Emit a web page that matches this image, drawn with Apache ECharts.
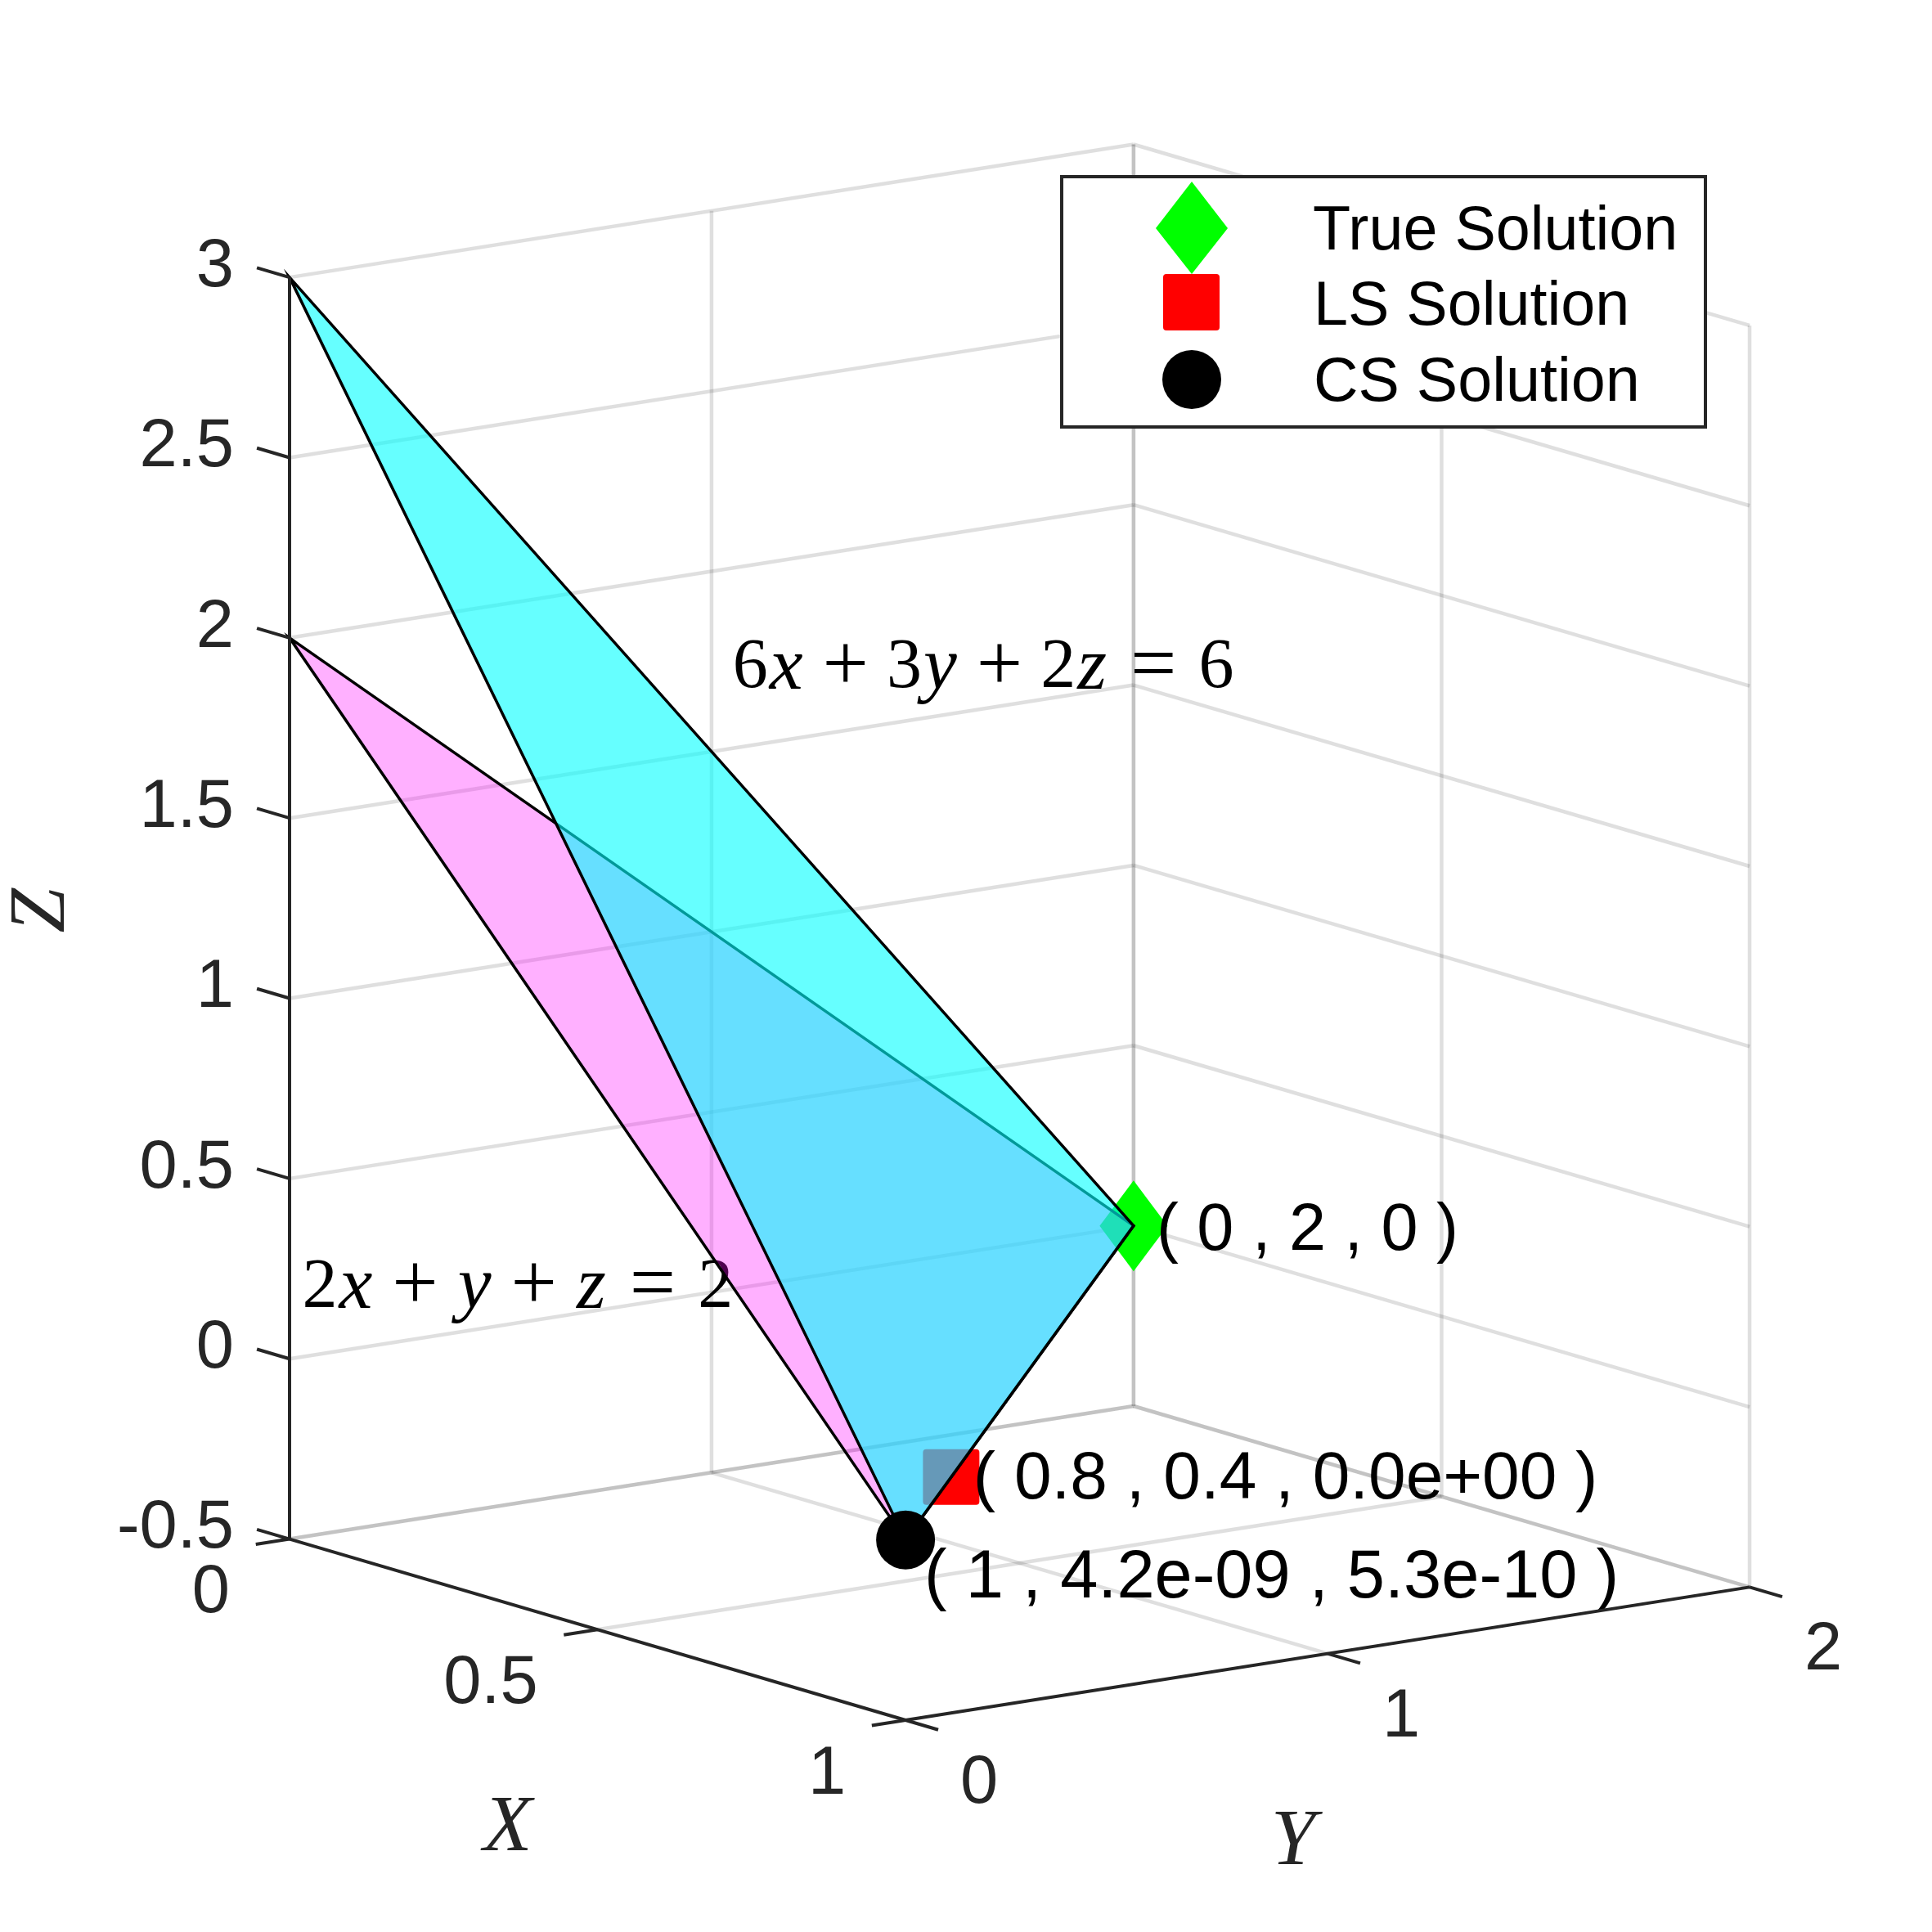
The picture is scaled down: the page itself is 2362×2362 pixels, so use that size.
<!DOCTYPE html>
<html>
<head>
<meta charset="utf-8">
<style>
  html, body { margin: 0; padding: 0; background: #fff; }
  #chart { width: 2362px; height: 2362px; }
</style>
<script src="https://cdn.jsdelivr.net/npm/echarts@6/dist/echarts.min.js"></script>
</head>
<body>
<div id="chart"></div>
<script>
const xTicks = [0, 0.5, 1]
const yTicks = [0, 1, 2]
const zTicks = [-0.5, 0, 0.5, 1, 1.5, 2, 2.5, 3]
const xTickLabels = ['0', '0.5', '1']
const yTickLabels = ['0', '1', '2']
const zTickLabels = ['-0.5', '0', '0.5', '1', '1.5', '2', '2.5', '3']

const planeA = [[1, 0, 0], [0, 2, 0], [0, 0, 2]] // 2x + y + z = 2
const planeB = [[1, 0, 0], [0, 2, 0], [0, 0, 3]] // 6x + 3y + 2z = 6

const trueSolution = [0, 2, 0]
const lsSolution = [0.8, 0.4, 0]
const csSolution = [1, 4.2e-9, 5.3e-10]
const trueLabel = '( 0 , 2 , 0 )'
const lsLabel = '( 0.8 , 0.4 , 0.0e+00 )'
const csLabel = '( 1 , 4.2e-09 , 5.3e-10 )'

const legendNames = ['True Solution', 'LS Solution', 'CS Solution']
const eqA = '{r|2}{i|x}{o|+}{i|y}{o|+}{i|z}{e|=}{r|2}'
const eqB = '{r|6}{i|x}{o|+}{r|3}{i|y}{o|+}{r|2}{i|z}{e|=}{r|6}'
const eqAPos = [0, 0.03, 0.19]
const eqBPos = [0, 1.05, 1.72]

// fixed 3d view, orthographic, az/el
const ux = 753.2
const uy = 516
const vx = -221.4
const vy = 81.3
const vz = 440.7

function project(p) {
  return [p[0] * ux + p[1] * uy, p[0] * vx + p[1] * vy + p[2] * vz]
}

const xMin = xTicks[0]
const xMax = xTicks[xTicks.length - 1]
const yMin = yTicks[0]
const yMax = yTicks[yTicks.length - 1]
const zMin = zTicks[0]
const zMax = zTicks[zTicks.length - 1]

// back walls and floor
const gridSegs = []
zTicks.forEach(z => {
  gridSegs.push([xMin, yMin, z, xMin, yMax, z])
  gridSegs.push([xMin, yMax, z, xMax, yMax, z])
})
xTicks.forEach(x => {
  if (x !== xMax) gridSegs.push([x, yMin, zMin, x, yMax, zMin])
  gridSegs.push([x, yMax, zMin, x, yMax, zMax])
})
yTicks.forEach(y => {
  if (y !== yMin) gridSegs.push([xMin, y, zMin, xMax, y, zMin])
  if (y !== yMin) gridSegs.push([xMin, y, zMin, xMin, y, zMax])
})

// axes and tick marks
const axisSegs = [
  [xMin, yMin, zMin, xMin, yMin, zMax],
  [xMin, yMin, zMin, xMax, yMin, zMin],
  [xMax, yMin, zMin, xMax, yMax, zMin]
]
zTicks.forEach(z => axisSegs.push([xMin, yMin, z, xMin - 0.053, yMin, z]))
xTicks.forEach(x => axisSegs.push([x, yMin, zMin, x, yMin - 0.08, zMin]))
yTicks.forEach(y => axisSegs.push([xMax, y, zMin, xMax + 0.053, y, zMin]))

const sans = '"Liberation Sans", Helvetica, Arial, sans-serif'
const serif = '"Liberation Serif", "Times New Roman", serif'

function segSeries(name, segs, color, width, z) {
  return {
    name: name,
    type: 'custom',
    z: z,
    silent: true,
    clip: false,
    data: segs,
    renderItem: function(params, api) {
      const a = api.coord(project([api.value(0), api.value(1), api.value(2)]))
      const b = api.coord(project([api.value(3), api.value(4), api.value(5)]))
      return {
        type: 'line',
        shape: { x1: a[0], y1: a[1], x2: b[0], y2: b[1] },
        style: { stroke: color, lineWidth: width, fill: null }
      }
    }
  }
}

function planeSeries(name, corners, fill, z) {
  return {
    name: name,
    type: 'custom',
    z: z,
    silent: true,
    clip: false,
    data: corners,
    renderItem: function(params, api) {
      if (params.dataIndex !== 0) return null
      const points = corners.map(c => api.coord(project(c)))
      return {
        type: 'polygon',
        shape: { points: points },
        style: { fill: fill, stroke: '#000', lineWidth: 3.5, lineJoin: 'miter' }
      }
    }
  }
}

function pointSeries(name, p, symbol, size, color, z) {
  return {
    name: name,
    type: 'scatter',
    z: z,
    silent: true,
    clip: false,
    symbol: symbol,
    symbolSize: size,
    itemStyle: { color: color, opacity: 1 },
    data: [project(p)]
  }
}

// text anchored on a 3d point, dx/dy in pixels
function textSeries(name, items, z) {
  return {
    name: name,
    type: 'custom',
    z: z,
    silent: true,
    clip: false,
    data: items.map((t, i) => [i]),
    renderItem: function(params, api) {
      const t = items[params.dataIndex]
      const c = api.coord(project(t.at))
      const style = {
        text: t.text,
        fill: t.color || '#262626',
        font: t.font || ('83px ' + sans),
        textAlign: t.align || 'left',
        textVerticalAlign: 'middle'
      }
      if (t.rich) style.rich = t.rich
      return {
        type: 'text',
        x: c[0] + (t.dx || 0),
        y: c[1] + (t.dy || 0),
        rotation: t.rotation || 0,
        style: style
      }
    }
  }
}

const tickTexts = []
zTicks.forEach((z, i) => tickTexts.push({ at: [xMin, yMin, z], text: zTickLabels[i], align: 'right', dx: -68, dy: -12 }))
xTicks.forEach((x, i) => tickTexts.push({ at: [x, yMin, zMin], text: xTickLabels[i], align: 'right', dx: -73, dy: 67 }))
yTicks.forEach((y, i) => tickTexts.push({ at: [xMax, y, zMin], text: yTickLabels[i], align: 'center', dx: 90, dy: 78 }))

const nameFont = 'italic 98px ' + serif
tickTexts.push({ at: [0.5, yMin, zMin], text: 'X', font: nameFont, align: 'center', dx: -110, dy: 244 })
tickTexts.push({ at: [xMax, 1, zMin], text: 'Y', font: nameFont, align: 'center', dx: -42, dy: 232 })
tickTexts.push({ at: [xMin, yMin, 1.25], text: 'Z', font: nameFont, align: 'center', dx: -302, dy: 3, rotation: Math.PI / 2 })

const eqRich = {
  r: { fontFamily: serif, fontSize: 86, fill: '#000' },
  i: { fontFamily: serif, fontSize: 92, fontStyle: 'italic', fill: '#000', padding: [0, 2, 0, 2] },
  o: { fontFamily: serif, fontSize: 100, fill: '#000', padding: [0, 22, 0, 22] },
  e: { fontFamily: serif, fontSize: 100, fill: '#000', padding: [0, 27, 0, 27] }
}
const noteTexts = [
  { at: trueSolution, text: trueLabel, color: '#000', font: '81px ' + sans, dx: 28, dy: 7 },
  { at: lsSolution, text: lsLabel, color: '#000', font: '82px ' + sans, dx: 27, dy: 4 },
  { at: csSolution, text: csLabel, color: '#000', font: '83px ' + sans, dx: 23, dy: 47 },
  { at: eqAPos, text: eqA, color: '#000', rich: eqRich },
  { at: eqBPos, text: eqB, color: '#000', rich: eqRich }
]

const chart = echarts.init(document.getElementById('chart'), null, { renderer: 'canvas' })

chart.setOption({
  animation: false,
  backgroundColor: '#fff',
  tooltip: { show: false },
  grid: { left: 354, top: 176.5, width: 1785, height: 1926.5, show: false },
  xAxis: {
    type: 'value',
    show: false,
    min: 0,
    max: xMax * ux + yMax * uy
  },
  yAxis: {
    type: 'value',
    show: false,
    min: xMax * vx + yMin * vy + zMin * vz,
    max: xMin * vx + yMax * vy + zMax * vz
  },
  series: [
    segSeries('grid', gridSegs, 'rgba(38,38,38,0.15)', 4.5, 1),
    pointSeries(legendNames[0], trueSolution, 'diamond', [83, 111], '#00ff00', 2),
    pointSeries(legendNames[1], lsSolution, 'path://M4,0H65Q69,0 69,4V64Q69,68 65,68H4Q0,68 0,64V4Q0,0 4,0Z', [69, 68], '#ff0000', 2),
    textSeries('notes', noteTexts, 3),
    planeSeries('2x+y+z=2', planeA, 'rgba(255,0,255,0.31)', 4),
    planeSeries('6x+3y+2z=6', planeB, 'rgba(0,255,255,0.6)', 5),
    pointSeries(legendNames[2], csSolution, 'circle', 72, '#000', 6),
    segSeries('axes', axisSegs, '#262626', 4, 7),
    textSeries('ticks', tickTexts, 8)
  ],
  graphic: {
    elements: [
      { type: 'rect', z: 100, shape: { x: 1298, y: 216, width: 787, height: 306 },
        style: { fill: '#fff', stroke: '#262626', lineWidth: 4 } },
      { type: 'polygon', z: 101, shape: { points: [[1457, 222], [1501, 279], [1457, 335], [1413, 279]] },
        style: { fill: '#00ff00' } },
      { type: 'rect', z: 101, shape: { x: 1422, y: 335, width: 69, height: 69, r: 4 },
        style: { fill: '#ff0000' } },
      { type: 'circle', z: 101, shape: { cx: 1457, cy: 464, r: 36 },
        style: { fill: '#000' } },
      { type: 'text', z: 101, x: 1605, y: 284,
        style: { text: legendNames[0], font: '75.5px ' + sans, fill: '#000', textVerticalAlign: 'middle' } },
      { type: 'text', z: 101, x: 1606, y: 376,
        style: { text: legendNames[1], font: '75.5px ' + sans, fill: '#000', textVerticalAlign: 'middle' } },
      { type: 'text', z: 101, x: 1606, y: 469,
        style: { text: legendNames[2], font: '75.5px ' + sans, fill: '#000', textVerticalAlign: 'middle' } }
    ]
  }
})
</script>
</body>
</html>
